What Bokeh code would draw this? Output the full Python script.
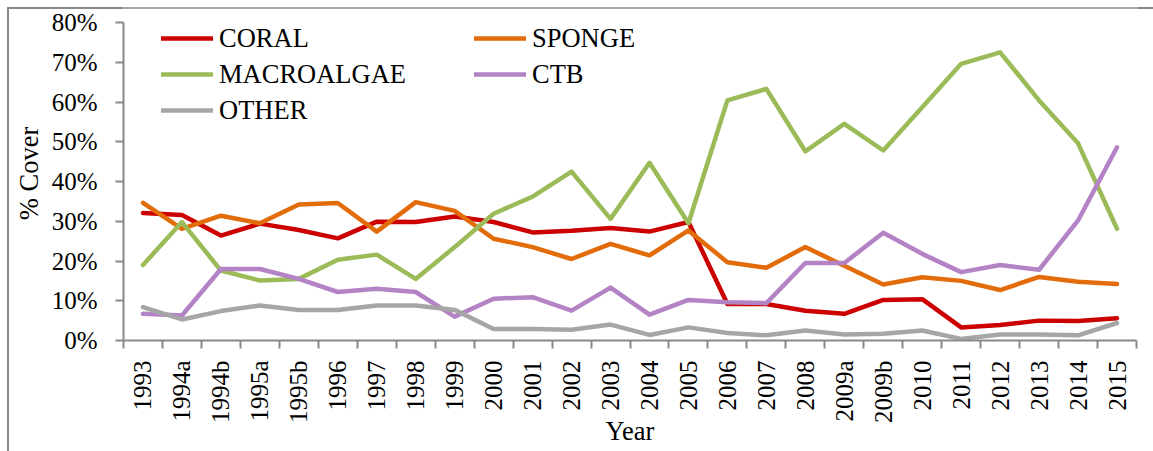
import math
from bokeh.plotting import figure
from bokeh.models import Range1d, FixedTicker, PrintfTickFormatter, Legend, LegendItem, Span
from bokeh.embed import file_html
from bokeh.resources import INLINE

years = ["1993", "1994a", "1994b", "1995a", "1995b", "1996", "1997", "1998", "1999",
         "2000", "2001", "2002", "2003", "2004", "2005", "2006", "2007", "2008",
         "2009a", "2009b", "2010", "2011", "2012", "2013", "2014", "2015"]

coral = [32.1, 31.6, 26.4, 29.4, 27.8, 25.7, 29.9, 29.8, 31.2, 29.8, 27.2, 27.6, 28.3,
         27.4, 29.8, 9.2, 9.2, 7.5, 6.7, 10.2, 10.4, 3.3, 3.9, 5.0, 4.9, 5.6]
sponge = [34.6, 28.1, 31.4, 29.5, 34.2, 34.6, 27.4, 34.8, 32.6, 25.6, 23.5, 20.5, 24.3,
          21.4, 27.7, 19.7, 18.3, 23.5, 18.8, 14.1, 15.9, 15.0, 12.7, 16.0, 14.8, 14.2]
macroalgae = [19.0, 29.8, 17.6, 15.1, 15.5, 20.3, 21.6, 15.5, 23.5, 31.9, 36.2, 42.5, 30.6,
              44.7, 29.5, 60.4, 63.3, 47.6, 54.5, 47.8, 58.7, 69.6, 72.5, 60.4, 49.6, 28.1]
ctb = [6.7, 6.3, 18.0, 18.0, 15.5, 12.2, 13.0, 12.2, 6.0, 10.5, 10.9, 7.5, 13.3,
       6.5, 10.2, 9.6, 9.4, 19.5, 19.5, 27.1, 21.8, 17.2, 19.0, 17.8, 30.2, 48.6]
other = [8.4, 5.3, 7.4, 8.8, 7.7, 7.7, 8.8, 8.8, 7.7, 2.9, 2.9, 2.7, 4.0,
         1.4, 3.3, 1.9, 1.3, 2.5, 1.5, 1.7, 2.5, 0.4, 1.5, 1.5, 1.3, 4.4]

y_ticks = [0, 10, 20, 30, 40, 50, 60, 70, 80]

series = [
    ("CORAL", coral, "#CC0000"),
    ("SPONGE", sponge, "#E36C0A"),
    ("MACROALGAE", macroalgae, "#9BBB59"),
    ("CTB", ctb, "#B383C6"),
    ("OTHER", other, "#A6A6A6"),
]

FONT = "Liberation Serif"
AXIS_COLOR = "#898989"

# frame spans y = 6 .. 340 px; 0..80 % occupies 340 .. 22 px
Y_TOP = 80 * (340 - 6) / (340 - 22)
BORDER_Y = 80 * (340 - 7.5) / (340 - 22)

p = figure(width=1153, height=451, output_backend="svg", toolbar_location=None, title=None,
           x_range=Range1d(-0.5, len(years) - 0.5), y_range=Range1d(0, Y_TOP),
           min_border_left=123, min_border_right=17, min_border_top=6, min_border_bottom=111)
p.outline_line_color = None
p.grid.visible = False
p.border_fill_color = None
p.background_fill_color = "white"
p.styles = {"box-shadow": "inset 7px 7px 0 0 #ffffff, inset 9px 9px 0 0 #8a8a8a"}

# top border line of the chart area
p.add_layout(Span(location=BORDER_Y, dimension="width", line_color="#8a8a8a", line_width=1.5))

xs = list(range(len(years)))
renderers = {}
for name, vals, color in series:
    r = p.line(xs, vals, line_color=color, line_width=4.5, line_join="round", line_cap="round")
    renderers[name] = r

# x axis
xa = p.xaxis[0]
xa.ticker = FixedTicker(ticks=xs, minor_ticks=[i - 0.5 for i in range(len(years) + 1)])
xa.major_label_overrides = {i: lbl for i, lbl in enumerate(years)}
xa.major_label_orientation = math.pi / 2
xa.major_tick_line_color = None
xa.major_tick_out = 0
xa.major_tick_in = 0
xa.minor_tick_out = 8
xa.minor_tick_in = 0
xa.minor_tick_line_color = AXIS_COLOR
xa.minor_tick_line_width = 2
xa.axis_line_color = AXIS_COLOR
xa.axis_line_width = 2
xa.major_label_standoff = 12
xa.major_label_text_font = FONT
xa.major_label_text_font_size = "25px"
xa.major_label_text_color = "black"
xa.axis_label = "Year"
xa.axis_label_text_font = FONT
xa.axis_label_text_font_size = "26.5px"
xa.axis_label_text_font_style = "normal"
xa.axis_label_text_color = "black"
xa.axis_label_standoff = -10

# y axis
ya = p.yaxis[0]
ya.ticker = FixedTicker(ticks=y_ticks, minor_ticks=[])
ya.formatter = PrintfTickFormatter(format="%d%%")
ya.bounds = (0, 80)
ya.major_tick_out = 8
ya.major_tick_in = 0
ya.major_tick_line_color = AXIS_COLOR
ya.major_tick_line_width = 2
ya.minor_tick_line_color = None
ya.axis_line_color = AXIS_COLOR
ya.axis_line_width = 2
ya.major_label_standoff = 18
ya.major_label_text_font = FONT
ya.major_label_text_font_size = "25px"
ya.major_label_text_color = "black"
ya.axis_label = "% Cover"
ya.axis_label_text_font = FONT
ya.axis_label_text_font_size = "26.5px"
ya.axis_label_text_font_style = "normal"
ya.axis_label_text_color = "black"
ya.axis_label_standoff = 5


def make_legend(names, loc):
    lg = Legend(items=[LegendItem(label=n, renderers=[renderers[n]]) for n in names],
                location=loc, orientation="vertical")
    lg.glyph_width = 52
    lg.glyph_height = 34
    lg.label_height = 34
    lg.label_standoff = 6
    lg.spacing = 2
    lg.padding = 0
    lg.margin = 0
    lg.border_line_color = None
    lg.background_fill_alpha = 0
    lg.label_text_font = FONT
    lg.label_text_font_size = "26.5px"
    lg.label_text_color = "black"
    return lg


p.add_layout(make_legend(["CORAL", "MACROALGAE", "OTHER"], (38, 213)))
p.add_layout(make_legend(["SPONGE", "CTB"], (351, 249)))

open("out.html", "w").write(file_html(p, INLINE))
